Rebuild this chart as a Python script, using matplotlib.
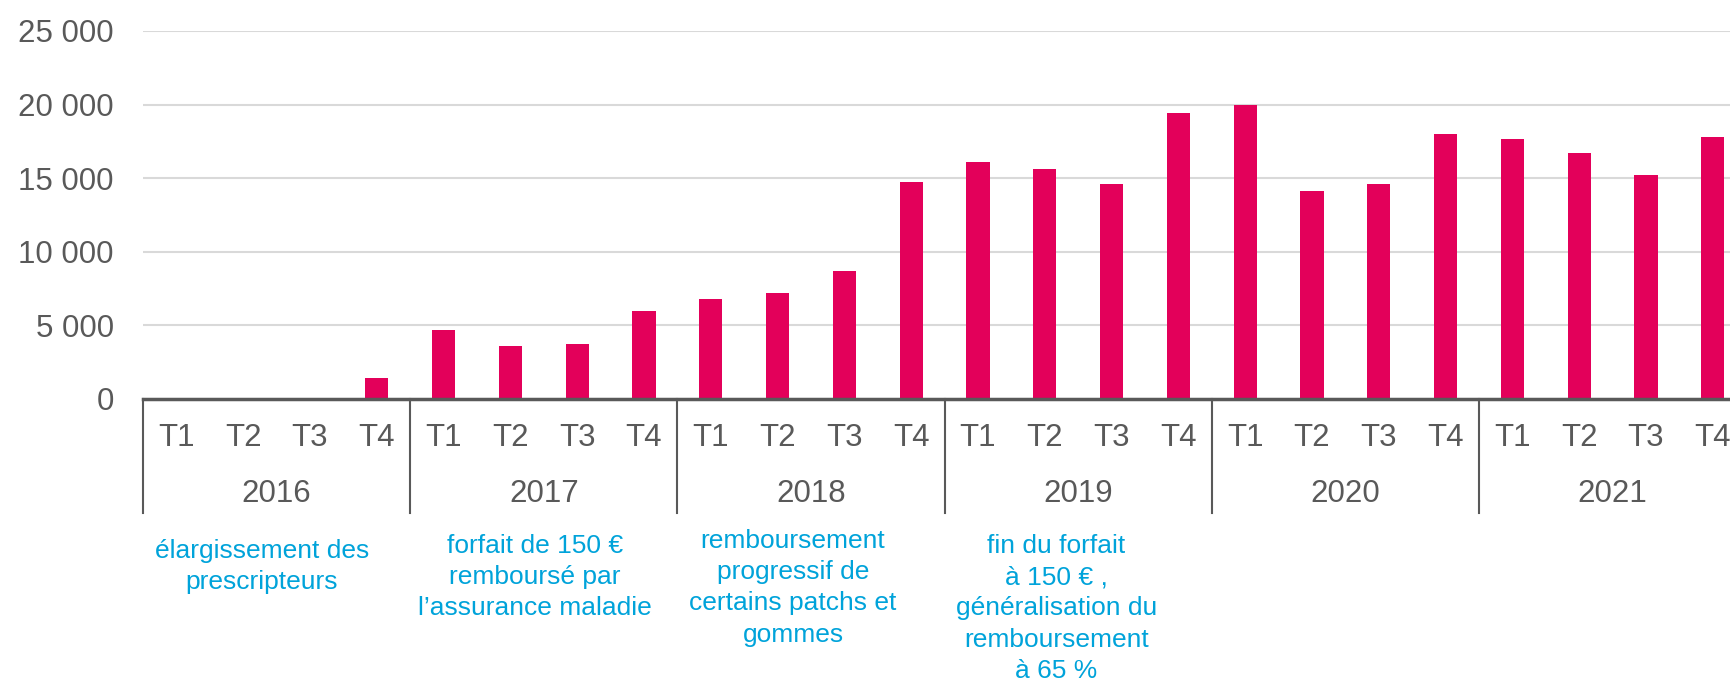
import matplotlib
matplotlib.use("Agg")
import matplotlib.pyplot as plt
from matplotlib.ticker import FuncFormatter

# ---- data ----
years = ["2016", "2017", "2018", "2019", "2020", "2021"]
quarters = ["T1", "T2", "T3", "T4"]
values = [0, 0, 0, 1400,
          4700, 3600, 3700, 5950,
          6750, 7200, 8700, 14700,
          16100, 15650, 14600, 19400,
          20000, 14150, 14600, 18000,
          17650, 16700, 15200, 17800]
yticks = [0, 5000, 10000, 15000, 20000, 25000]
notes = [
    "élargissement des\nprescripteurs",
    "forfait de 150 €\nremboursé par\nl’assurance maladie",
    "remboursement\nprogressif de\ncertains patchs et\ngommes",
    "fin du forfait\nà 150 € ,\ngénéralisation du\nremboursement\nà 65 %",
]
note_years = ["2016", "2017", "2018", "2019"]

# ---- style ----
plt.rcParams['font.family'] = ['Liberation Sans', 'DejaVu Sans']
BAR = '#E3005A'
TXT = '#595959'
NOTE = '#00A3DA'
W, H = 1731, 685

fig = plt.figure(figsize=(W / 100, H / 100), dpi=100)
left_px, bottom_px, top_px = 143, 398.7, 31
cat_w = 66.8
ax = fig.add_axes([left_px / W, (H - bottom_px) / H, (W - left_px) / W, (bottom_px - top_px) / H])

n = len(values)
x = list(range(n))
ax.bar(x, values, width=0.35, color=BAR, zorder=3)
ax.set_xlim(-0.5, -0.5 + (W - left_px) / cat_w)
ax.set_ylim(0, 25000)
ax.set_yticks(yticks)
ax.yaxis.set_major_formatter(FuncFormatter(lambda v, p: f"{int(v):,}".replace(",", " ")))
ax.tick_params(axis='y', length=0, pad=21, labelsize=22.5, labelcolor=TXT)
ax.set_xticks([])
ax.grid(axis='y', color='#D9D9D9', linewidth=1.5, zorder=0)
for s in ['left', 'right', 'top']:
    ax.spines[s].set_visible(False)
ax.spines['bottom'].set_color(TXT)
ax.spines['bottom'].set_linewidth(2.5)
ax.spines['bottom'].set_zorder(4)

axh = bottom_px - top_px
def yfrac(px):
    return (bottom_px - px) / axh

tr = ax.get_xaxis_transform()
# quarter labels
for i in range(n):
    ax.text(i, yfrac(438), quarters[i % 4], transform=tr, ha='center', va='center',
            fontsize=22.5, color=TXT, clip_on=False)
# year labels and separators
for j, yr in enumerate(years):
    ax.text(j * 4 + 1.5, yfrac(494), yr, transform=tr, ha='center', va='center',
            fontsize=22.5, color=TXT, clip_on=False)
for j in range(len(years)):
    ax.plot([j * 4 - 0.5, j * 4 - 0.5], [0, yfrac(513)], transform=tr, color=TXT,
            linewidth=1.5, clip_on=False, zorder=4)

# annotations
note_x = [1.28, 5.37, 9.23, 13.17]
note_top = [551, 546, 541, 546]
for txt, xx, tp in zip(notes, note_x, note_top):
    ax.text(xx, yfrac(tp - 12), txt, transform=tr, ha='center', va='top',
            multialignment='center', fontsize=19, color=NOTE, linespacing=1.38, clip_on=False)

fig.savefig("out.png", dpi=100)
